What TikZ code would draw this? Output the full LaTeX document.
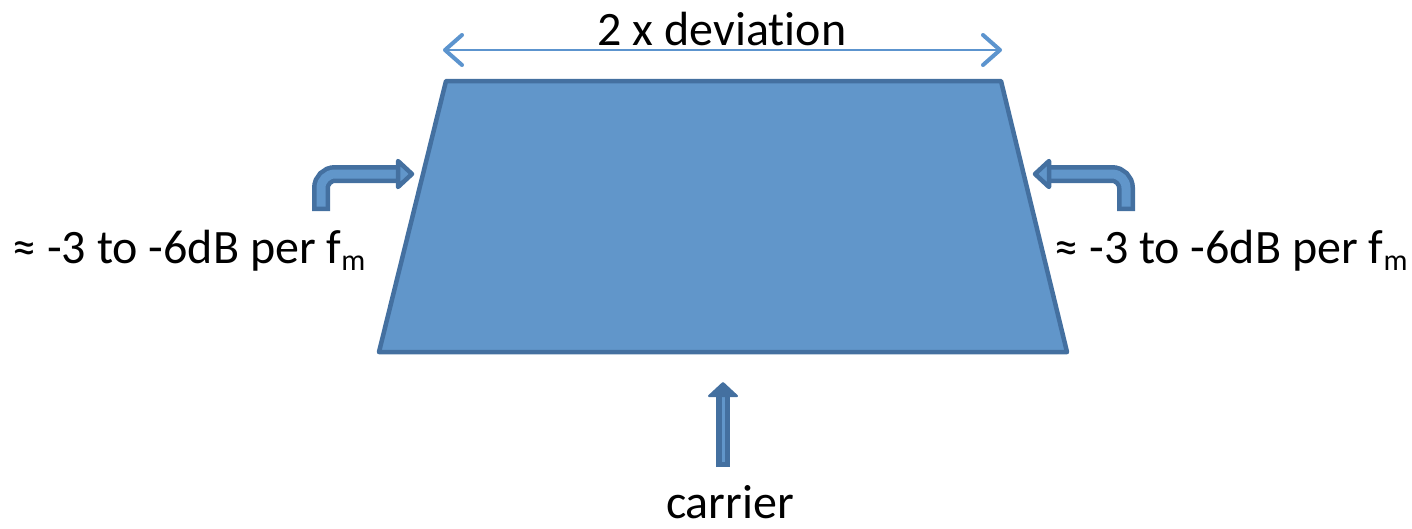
\documentclass[tikz,border=0pt]{standalone}
\usepackage{fontspec}
\setmainfont{Carlito}[Ligatures={NoCommon}]
\usetikzlibrary{arrows.meta}
\definecolor{bodyfill}{RGB}{97,150,202}
\definecolor{bodyline}{RGB}{68,112,160}
\definecolor{spanline}{RGB}{92,148,206}
\tikzset{
  lbl/.style={inner sep=0pt, font=\fontsize{48}{56}\selectfont},
  shaftout/.style={draw=bodyline, line width=18pt, rounded corners=14pt},
  shaftin/.style={draw=bodyfill, line width=9pt, rounded corners=14pt},
  headbox/.style={fill=bodyfill, draw=bodyline, line width=4.5pt, line join=round},
}
\newcommand{\subm}{\raisebox{-0.33ex}{\fontsize{30}{30}\selectfont m}}
\begin{document}
\begin{tikzpicture}[x=1pt,y=-1pt]
\useasboundingbox (0,0) rectangle (1412,528);

% spectrum body
\coordinate (tl) at (446,81);
\coordinate (tr) at (1001,81);
\coordinate (br) at (1067,352);
\coordinate (bl) at (379,352);
\draw[fill=bodyfill, draw=bodyline, line width=4.5pt, line join=round]
  (tl) -- (tr) -- (br) -- (bl) -- cycle;

% deviation span
\coordinate (sl) at (443,50);
\coordinate (sr) at (1002,50);
\draw[spanline, line width=2.5pt, line cap=round,
  {Straight Barb[length=17pt,width=30pt,line width=4pt,round]}-{Straight Barb[length=17pt,width=30pt,line width=4pt,round]}]
  (sl) -- (sr);
\node[lbl, anchor=base] (dev) at (722,45) {2 x deviation};

% left bent arrow
\coordinate (la0) at (321,211);
\coordinate (la1) at (321,174);
\coordinate (la2) at (400,174);
\draw[shaftout] (la0) -- (la1) -- (la2);
\draw[shaftin] ([yshift=4.5]la0) -- (la1) -- (la2);
\path[headbox] (398,161) -- (412,174) -- (398,187) -- cycle;

% right bent arrow
\coordinate (ra0) at (1126,211);
\coordinate (ra1) at (1126,174);
\coordinate (ra2) at (1047,174);
\draw[shaftout] (ra0) -- (ra1) -- (ra2);
\draw[shaftin] ([yshift=4.5]ra0) -- (ra1) -- (ra2);
\path[headbox] (1049,161) -- (1035,174) -- (1049,187) -- cycle;

% carrier arrow
\coordinate (ca0) at (723,467);
\coordinate (ca1) at (723,394);
\draw[draw=bodyline, line width=14pt] (ca0) -- (ca1);
\draw[draw=bodyfill, line width=3pt] ([yshift=5]ca0) -- (ca1);
\path[fill=bodyline, draw=bodyline, line width=2pt, line join=round]
  (709,396) -- (723,383) -- (737,396) -- cycle;

% labels
\node[lbl, anchor=base] (ll) at (189,263) {≈ -3 to -6dB per f\subm};
\node[lbl, anchor=base] (rl) at (1231,263) {≈ -3 to -6dB per f\subm};
\node[lbl, anchor=base] (car) at (730,518) {carrier};
\end{tikzpicture}
\end{document}
